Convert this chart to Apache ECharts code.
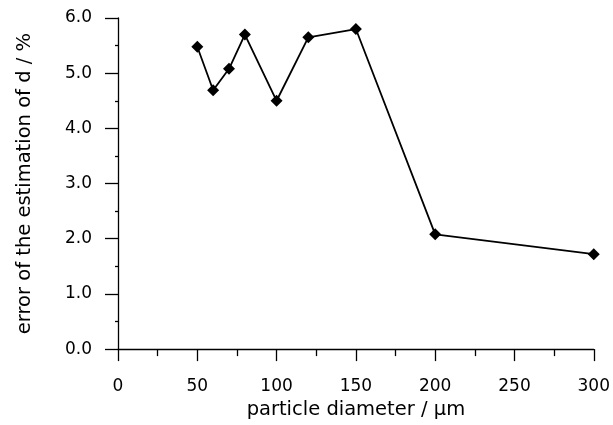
<!DOCTYPE html>
<html>
<head>
<meta charset="utf-8">
<script src="https://cdn.jsdelivr.net/npm/echarts@6/dist/echarts.min.js"></script>
<style>
  html, body { margin: 0; padding: 0; background: #fff; }
  #pic { width: 613px; height: 425px; }
</style>
</head>
<body>
<div id="pic"></div>
<script>
// particle diameter (µm) and estimation error (%)
var diameters = [50, 60, 70, 80, 100, 120, 150, 200, 300];
var errors = [5.48, 4.69, 5.08, 5.7, 4.5, 5.65, 5.8, 2.08, 1.72];
var xTicks = [0, 50, 100, 150, 200, 250, 300];
var yTicks = [0, 1, 2, 3, 4, 5, 6];

var myChart = echarts.init(document.getElementById('pic'));

var font = 'DejaVu Sans';
var axisLine = { show: true, lineStyle: { color: '#000', width: 1.3 } };

var option = {
    animation: false,
    backgroundColor: '#fff',
    grid: { left: 118, right: 17, top: 18, bottom: 72 },
    xAxis: {
        type: 'value',
        min: xTicks[0],
        max: xTicks[xTicks.length - 1],
        interval: 50,
        name: 'particle diameter / µm',
        nameLocation: 'middle',
        nameGap: 49,
        nameTextStyle: { fontFamily: font, fontSize: 19.5, color: '#000' },
        axisLine: axisLine,
        axisTick: { length: 12, lineStyle: { color: '#000', width: 1.3 } },
        minorTick: { show: true, splitNumber: 2, length: 7, lineStyle: { color: '#000', width: 1.3 } },
        axisLabel: { fontFamily: font, fontSize: 17, color: '#000', margin: 29 },
        splitLine: { show: false }
    },
    yAxis: {
        type: 'value',
        min: yTicks[0],
        max: yTicks[yTicks.length - 1],
        interval: 1,
        name: 'error of the estimation of d / %',
        nameLocation: 'middle',
        nameGap: 83,
        nameTextStyle: { fontFamily: font, fontSize: 19.5, color: '#000' },
        axisLine: axisLine,
        axisTick: { length: 13, lineStyle: { color: '#000', width: 1.3 } },
        minorTick: { show: true, splitNumber: 2, length: 3, lineStyle: { color: '#000', width: 1.3 } },
        axisLabel: {
            fontFamily: font, fontSize: 17, color: '#000', margin: 26,
            formatter: function (v) { return v.toFixed(1); }
        },
        splitLine: { show: false }
    },
    series: [{
        type: 'line',
        data: diameters.map(function (d, i) { return [d, errors[i]]; }),
        symbol: 'diamond',
        symbolSize: 12,
        itemStyle: { color: '#000' },
        lineStyle: { color: '#000', width: 1.8 }
    }]
};

myChart.setOption(option);
</script>
</body>
</html>
